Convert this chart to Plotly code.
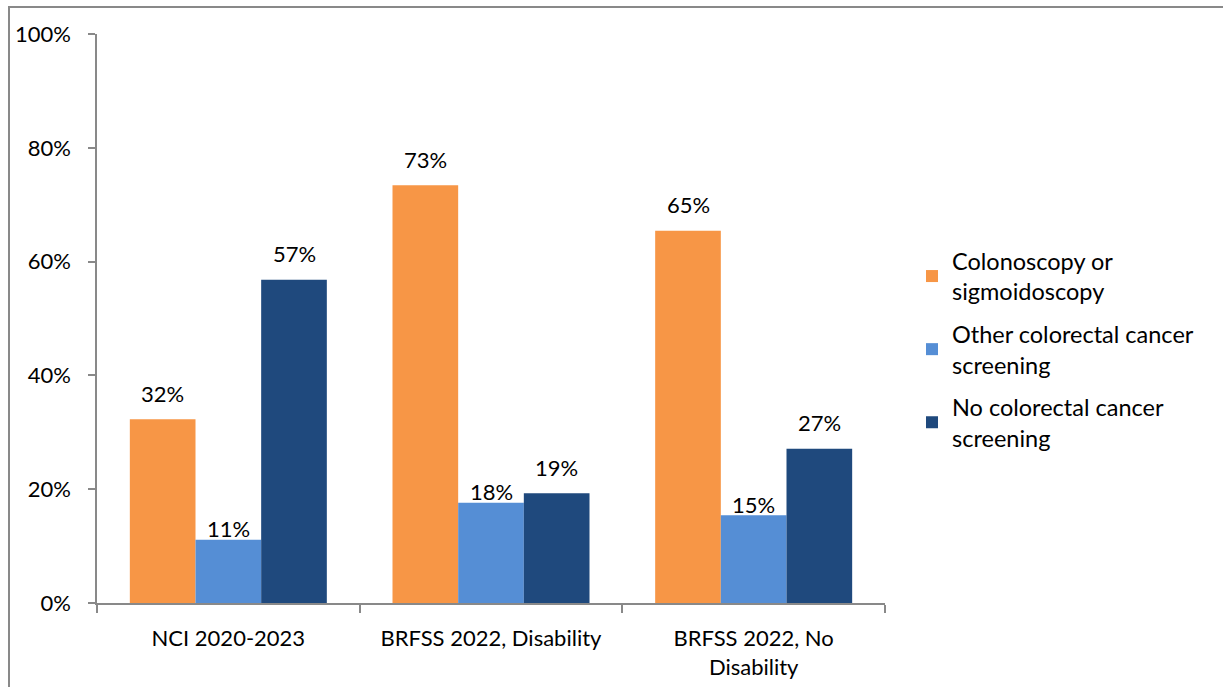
import plotly.graph_objects as go

categories = ["NCI 2020-2023", "BRFSS 2022, Disability", "BRFSS 2022, No<br>Disability"]
series_names = ["Colonoscopy or<br>sigmoidoscopy", "Other colorectal cancer<br>screening", "No colorectal cancer<br>screening"]
colonoscopy = [32.3, 73.4, 65.4]
other_screening = [11.1, 17.6, 15.4]
no_screening = [56.8, 19.3, 27.1]
colors = ["#F79646", "#558ED5", "#1F497D"]
y_ticks = [0, 20, 40, 60, 80, 100]
y_tick_labels = ["0%", "20%", "40%", "60%", "80%", "100%"]

FONT = "Lato, Calibri, Carlito, sans-serif"
BARGAP = 0.25
label_lift = [26, 11, 26]  # px between bar top and label centre, per series

fig = go.Figure()
all_series = [colonoscopy, other_screening, no_screening]
for k, (name, vals, col) in enumerate(zip(series_names, all_series, colors)):
    fig.add_trace(go.Bar(
        x=categories, y=vals, name=name, legendgroup=f"g{k}",
        marker=dict(color=col, line=dict(width=0)),
    ))

# data labels placed at each bar's position on the category axis
bar_w = (1 - BARGAP) / len(all_series)
for k, vals in enumerate(all_series):
    for i, v in enumerate(vals):
        fig.add_annotation(
            x=i + (k - (len(all_series) - 1) / 2) * bar_w, y=v,
            text=f"{round(v)}%", showarrow=False,
            yanchor="middle", yshift=label_lift[k],
            font=dict(family=FONT, size=22, color="#000000"),
        )

W, H = 1223, 687
L, R, T, B = 97, 338, 34, 84
pw, ph = W - L - R, H - T - B

fig.update_layout(
    width=W, height=H,
    margin=dict(l=L, r=R, t=T, b=B, pad=0),
    barmode="group", bargap=BARGAP, bargroupgap=0,
    plot_bgcolor="white", paper_bgcolor="white",
    font=dict(family=FONT, size=22, color="#000000"),
    showlegend=True,
    legend=dict(x=(912 - L) / pw, y=(603 - 239) / ph, xanchor="left", yanchor="top",
                font=dict(family=FONT, size=23.5, color="#000000"),
                tracegroupgap=9, itemsizing="constant", bgcolor="rgba(0,0,0,0)"),
    xaxis=dict(showline=True, linecolor="#898989", linewidth=1.5,
               ticks="outside", tickson="boundaries", ticklen=8, tickcolor="#898989",
               tickwidth=1.5, tickfont=dict(family=FONT, size=22), showgrid=False,
               ticklabelstandoff=15, automargin=False),
    yaxis=dict(range=[0, 100], tickvals=y_ticks, ticktext=y_tick_labels,
               showline=True, linecolor="#898989", linewidth=1.5,
               ticks="outside", ticklen=7, tickcolor="#898989", tickwidth=1.5,
               showgrid=False, zeroline=False, ticklabelstandoff=13, automargin=False,
               tickfont=dict(family=FONT, size=22)),
)

# outer chart border (clipped by the page edges on the right and bottom)
fig.add_shape(type="rect", xref="paper", yref="paper",
              x0=(9 - L) / pw, x1=(1240 - L) / pw,
              y0=(603 - 700) / ph, y1=(603 - 7) / ph,
              line=dict(color="#898989", width=2), fillcolor="rgba(0,0,0,0)", layer="below")

fig.write_html("out.html")
